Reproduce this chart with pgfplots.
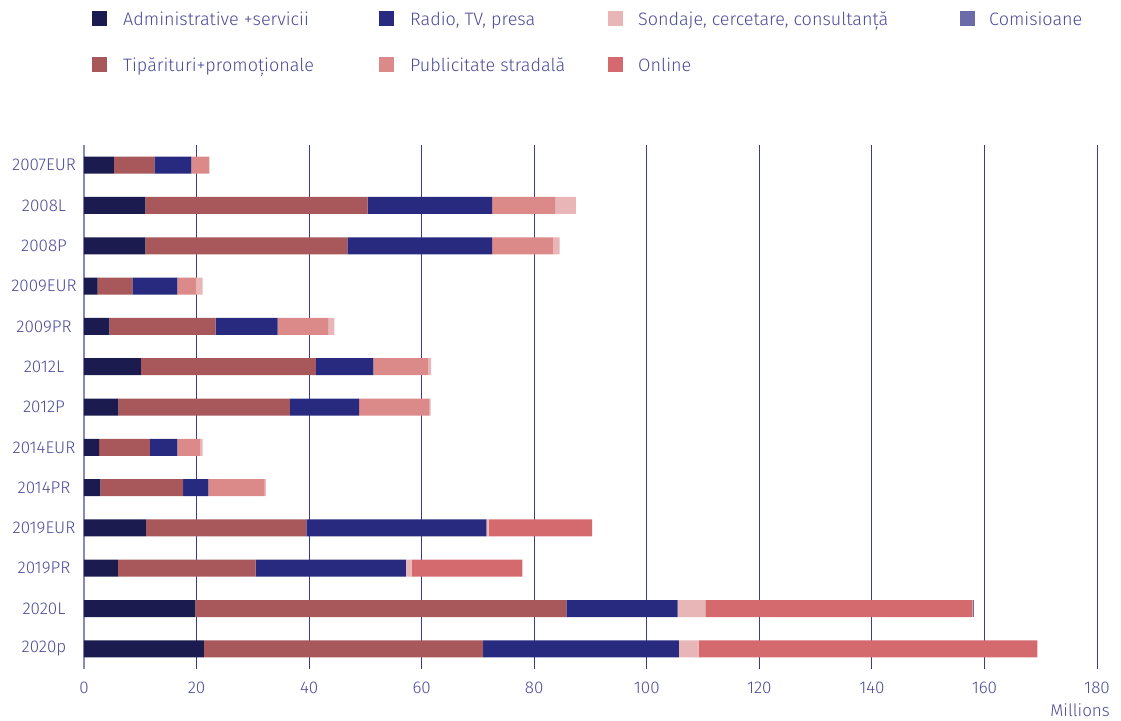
\documentclass[border=0pt]{standalone}
\usepackage{pgfplots}
\pgfplotsset{compat=1.18}
\usepackage{fontspec}
\setmainfont{Fira Sans Light}
\definecolor{cadm}{HTML}{1B1B4F}
\definecolor{ctip}{HTML}{A8575A}
\definecolor{crad}{HTML}{282A80}
\definecolor{cpub}{HTML}{DC898A}
\definecolor{csond}{HTML}{E8B6B6}
\definecolor{conl}{HTML}{D46A6E}
\definecolor{ccom}{HTML}{6B6BAA}
\definecolor{ctxt}{HTML}{4B4B98}
\definecolor{cgrid}{HTML}{3A3A8E}
\definecolor{caxis}{HTML}{8A8AB8}
\newcommand{\lf}{\fontsize{17}{20}\selectfont}
\newcommand{\lgf}{\fontsize{18}{21}\selectfont}
\begin{document}
\begin{tikzpicture}[x=1pt,y=1pt,font=\lf]
\useasboundingbox (-84,-51) rectangle (1037,669);
\begin{axis}[
  at={(0,0)}, anchor=south west,
  width=1013pt, height=524pt, scale only axis,
  xmin=0, xmax=180, ymin=-0.5, ymax=12.5, y dir=reverse,
  xbar stacked, bar width=17pt,
  xtick={0,20,...,180}, ytick={0,...,12},
  yticklabels={2007EUR,2008L,2008P,2009EUR,2009PR,2012L,2012P,2014EUR,2014PR,2019EUR,2019PR,2020L,2020p},
  xmajorgrids, grid style={cgrid, line width=0.9pt},
  axis x line*=bottom, axis y line*=left,
  axis line style={-},
  x axis line style={draw=none},
  y axis line style={draw=caxis, line width=1.4pt},
  major tick length=0pt, tick style={draw=none},
  ticklabel style={font=\lf, text=ctxt},
  xticklabel style={yshift=-9pt},
  yticklabel style={anchor=center, xshift=-40pt},
  /pgf/number format/assume math mode=true,
  every axis plot/.append style={draw=none},
]
\addplot[fill=cadm] coordinates {(5.3,0)(10.9,1)(10.9,2)(2.4,3)(4.5,4)(10.1,5)(6.1,6)(2.7,7)(2.9,8)(11.0,9)(6.0,10)(19.8,11)(21.3,12)};
\addplot[fill=ctip] coordinates {(7.2,0)(39.5,1)(35.9,2)(6.2,3)(18.9,4)(31.1,5)(30.5,6)(9.0,7)(14.7,8)(28.5,9)(24.5,10)(65.9,11)(49.6,12)};
\addplot[fill=crad] coordinates {(6.6,0)(22.1,1)(25.7,2)(8.0,3)(11.0,4)(10.2,5)(12.3,6)(4.9,7)(4.5,8)(32.0,9)(26.7,10)(19.8,11)(34.8,12)};
\addplot[fill=cpub] coordinates {(3.2,0)(11.2,1)(10.9,2)(3.3,3)(9.0,4)(9.7,5)(12.5,6)(4.0,7)(10.0,8)(0.1,9)(0,10)(0,11)(0,12)};
\addplot[fill=csond] coordinates {(0,0)(3.7,1)(1.1,2)(1.2,3)(1.1,4)(0.6,5)(0.2,6)(0.5,7)(0.2,8)(0.3,9)(1.0,10)(4.9,11)(3.5,12)};
\addplot[fill=conl] coordinates {(0,0)(0,1)(0,2)(0,3)(0,4)(0,5)(0,6)(0,7)(0,8)(18.4,9)(19.7,10)(47.5,11)(60.2,12)};
\addplot[fill=ccom] coordinates {(0,0)(0,1)(0,2)(0,3)(0,4)(0,5)(0,6)(0,7)(0,8)(0,9)(0,10)(0.2,11)(0,12)};
\end{axis}
% legend
\fill[cadm] (8,642.5) rectangle ++(15,15);
\node[anchor=mid west, inner sep=0, text=ctxt, font=\lgf] at (39,646) {Administrative +servicii};
\fill[crad] (295,642.5) rectangle ++(15,15);
\node[anchor=mid west, inner sep=0, text=ctxt, font=\lgf] at (326,646) {Radio, TV, presa};
\fill[csond] (524,642.5) rectangle ++(15,15);
\node[anchor=mid west, inner sep=0, text=ctxt, font=\lgf] at (554,646) {Sondaje, cercetare, consultanță};
\fill[ccom] (876,642.5) rectangle ++(15,15);
\node[anchor=mid west, inner sep=0, text=ctxt, font=\lgf] at (905,646) {Comisioane};
\fill[ctip] (8,596.5) rectangle ++(15,15);
\node[anchor=mid west, inner sep=0, text=ctxt, font=\lgf] at (39,600) {Tipărituri+promoționale};
\fill[cpub] (295,596.5) rectangle ++(15,15);
\node[anchor=mid west, inner sep=0, text=ctxt, font=\lgf] at (326,600) {Publicitate stradală};
\fill[conl] (524,596.5) rectangle ++(15,15);
\node[anchor=mid west, inner sep=0, text=ctxt, font=\lgf] at (554,600) {Online};
\node[anchor=east, inner sep=0, text=ctxt] at (1026,-41) {Millions};
\end{tikzpicture}
\end{document}
